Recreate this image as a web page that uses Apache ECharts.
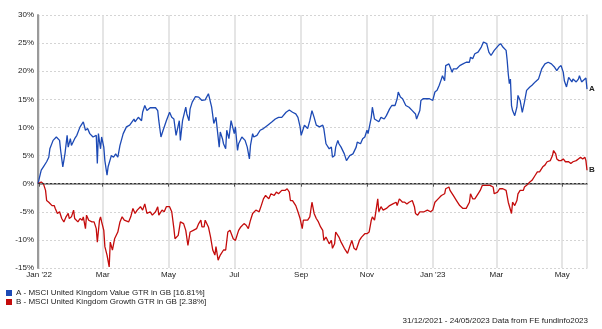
<!DOCTYPE html>
<html>
<head>
<meta charset="utf-8">
<script src="https://cdn.jsdelivr.net/npm/echarts@6/dist/echarts.min.js"></script>
<style>
  html, body { margin: 0; padding: 0; background: #fff; }
  #chart { width: 602px; height: 329px; }
</style>
</head>
<body>
<div id="chart"></div>
<script>
// Cumulative total return (%) from 31/12/2021, sampled as [day offset, value]
const startDate = '2021-12-31';
const endDate = '2023-05-24';

const nameA = 'A - MSCI United Kingdom Value GTR in GB [16.81%]';
const nameB = 'B - MSCI United Kingdom Growth GTR in GB [2.38%]';

const pointsA = [
  [0,0],[3,2.4],[5,3.0],[8,3.9],[10,4.7],[11,6.2],[14,7.7],[17,8.3],[20,7.7],[21,5.9],[23,3.0],[25,5.3],
  [27,8.6],[28,6.5],[30,8.0],[31,6.8],[34,8.0],[36,8.6],[39,10.1],[42,11.0],[44,9.5],[46,9.8],[48,8.9],
  [51,8.3],[54,8.6],[55,3.6],[56,8.9],[58,6.2],[59,8.3],[61,6.5],[62,4.1],[64,1.5],[65,3.0],[68,5.0],
  [70,4.7],[72,5.3],[74,4.7],[76,6.8],[79,8.9],[82,10.1],[85,10.4],[89,11.5],[90,11.0],[93,11.8],
  [96,11.2],[97,12.7],[99,13.9],[101,13.0],[104,13.5],[109,13.5],[111,13.0],[112,11.2],[114,8.3],
  [116,9.5],[119,11.2],[122,12.7],[124,11.8],[126,11.5],[128,8.6],[129,8.3],[131,11.2],[132,7.7],
  [134,11.2],[137,13.6],[138,12.4],[140,11.2],[141,13.3],[143,14.5],[146,15.5],[149,15.4],[152,14.8],
  [155,14.9],[158,16.0],[159,15.7],[161,13.6],[163,10.7],[165,11.8],[168,6.5],[169,9.2],[171,8.0],
  [172,7.1],[174,6.2],[175,9.5],[177,8.0],[179,11.2],[180,11.2],[182,8.9],[183,10.1],[185,5.9],
  [186,7.1],[189,8.3],[192,7.7],[194,6.5],[196,4.4],[197,6.8],[199,8.9],[200,8.3],[203,8.6],[206,9.5],
  [209,9.8],[213,10.4],[217,11.0],[220,11.5],[223,11.8],[226,11.8],[230,12.7],[233,13.1],[236,12.7],
  [239,12.4],[241,11.8],[243,10.1],[244,8.6],[247,10.4],[250,9.8],[252,11.2],[254,13.0],[256,11.8],
  [258,10.4],[261,10.1],[264,10.4],[265,9.8],[267,7.1],[270,6.2],[272,6.5],[273,4.7],[275,5.0],
  [276,6.5],[278,7.7],[279,7.1],[281,6.5],[282,6.5],[284,5.3],[286,4.1],[289,5.0],[292,5.3],[295,6.5],
  [296,7.4],[299,7.1],[301,8.0],[303,8.3],[305,9.5],[306,8.9],[309,11.8],[310,13.6],[312,11.5],
  [313,11.2],[316,11.0],[318,11.8],[321,11.5],[323,12.1],[324,11.8],[326,13.3],[328,13.9],[331,13.9],
  [333,15.1],[334,16.3],[336,15.4],[338,15.1],[341,13.9],[344,13.6],[347,13.0],[350,12.4],[351,11.5],
  [354,13.0],[355,14.8],[357,15.1],[360,15.1],[363,15.1],[366,14.8],[368,16.3],[370,16.6],[372,17.5],
  [374,18.6],[375,19.2],[377,18.3],[378,21.0],[381,21.3],[382,21.0],[384,19.8],[385,20.4],[388,20.4],
  [391,21.0],[394,21.3],[397,21.6],[400,21.6],[401,22.5],[403,22.2],[405,23.1],[408,23.4],[411,24.3],
  [413,25.2],[416,24.9],[418,23.4],[420,22.8],[423,23.7],[427,24.6],[429,24.9],[431,24.3],[434,23.7],
  [435,21.9],[436,19.5],[437,17.8],[438,18.6],[439,13.9],[440,13.0],[442,12.1],[444,13.6],[445,15.7],
  [447,14.8],[449,12.7],[451,14.5],[453,16.6],[454,16.3],[456,17.2],[458,17.5],[461,18.1],[464,18.6],
  [467,20.4],[470,21.3],[473,21.6],[476,21.3],[479,20.7],[481,20.1],[483,20.7],[485,21.0],[487,19.8],
  [488,18.3],[490,17.2],[492,18.9],[493,18.6],[495,18.1],[496,18.6],[499,18.1],[501,18.6],[502,19.2],
  [504,18.1],[505,18.3],[508,18.8],[509,16.81]
];

const pointsB = [
  [0,0],[3,0.3],[5,0],[7,-1.2],[8,-3.0],[10,-3.3],[11,-3.0],[13,-3.9],[15,-3.9],[16,-4.4],[18,-5.3],
  [20,-5.0],[22,-6.2],[24,-6.8],[26,-5.9],[28,-5.3],[29,-6.2],[31,-5.9],[33,-4.7],[34,-6.2],[37,-6.8],
  [39,-6.2],[41,-6.5],[42,-5.9],[44,-8.0],[45,-5.6],[47,-6.5],[50,-6.8],[52,-6.8],[54,-8.0],[55,-10.4],
  [57,-6.5],[58,-5.9],[59,-6.8],[61,-8.3],[62,-11.2],[64,-12.7],[66,-14.8],[67,-10.4],[69,-11.8],
  [71,-9.8],[72,-10.1],[74,-8.6],[76,-6.8],[78,-5.9],[80,-6.5],[81,-6.2],[84,-6.8],[86,-5.9],[88,-4.4],
  [90,-5.3],[92,-4.7],[95,-4.1],[97,-4.7],[99,-3.6],[101,-5.3],[104,-5.0],[106,-5.6],[109,-5.0],
  [111,-4.1],[112,-5.6],[115,-4.7],[117,-5.0],[119,-4.1],[122,-4.1],[124,-5.0],[126,-8.0],[127,-9.8],
  [130,-9.2],[132,-6.8],[135,-7.1],[137,-8.3],[139,-11.0],[141,-8.6],[144,-8.3],[147,-8.0],[149,-7.1],
  [151,-6.5],[152,-7.7],[154,-7.7],[155,-6.5],[158,-7.7],[160,-9.5],[162,-11.8],[164,-12.7],[165,-11.2],
  [167,-13.6],[169,-12.7],[172,-11.8],[174,-11.8],[176,-8.6],[178,-8.3],[181,-9.8],[183,-10.1],
  [186,-8.3],[188,-7.7],[191,-7.1],[193,-7.4],[195,-8.0],[197,-6.5],[199,-5.3],[202,-4.7],[205,-5.0],
  [207,-3.9],[209,-2.7],[211,-2.1],[214,-2.7],[216,-1.8],[219,-2.1],[221,-1.5],[223,-1.8],[226,-1.2],
  [229,-1.2],[231,-0.9],[233,-1.5],[234,-3.0],[236,-3.0],[239,-3.9],[241,-5.0],[243,-6.2],[245,-8.0],
  [246,-6.5],[250,-6.5],[252,-5.9],[254,-3.3],[255,-3.6],[256,-5.3],[258,-6.2],[260,-6.8],[262,-7.7],
  [264,-8.3],[265,-10.1],[267,-9.5],[268,-9.8],[270,-10.7],[272,-10.1],[273,-11.5],[275,-10.7],
  [276,-8.6],[279,-9.5],[281,-10.4],[284,-11.5],[287,-12.4],[289,-11.2],[291,-10.1],[293,-11.5],
  [295,-11.8],[298,-10.1],[300,-9.5],[303,-8.9],[305,-8.9],[307,-8.6],[309,-6.5],[310,-5.9],[312,-6.5],
  [313,-5.3],[315,-2.7],[316,-5.0],[318,-4.1],[320,-4.7],[321,-5.0],[323,-4.4],[326,-3.9],[329,-3.6],
  [332,-3.3],[333,-3.9],[335,-2.7],[338,-3.3],[340,-3.3],[342,-3.6],[344,-3.3],[347,-3.0],[349,-4.1],
  [350,-5.3],[352,-5.6],[354,-5.0],[355,-4.7],[358,-5.0],[361,-4.7],[364,-5.0],[366,-4.7],[368,-3.3],
  [371,-2.7],[374,-2.1],[377,-1.8],[378,-0.9],[381,-0.6],[382,-1.2],[385,-2.1],[388,-3.0],[391,-3.9],
  [394,-4.4],[397,-4.4],[398,-4.7],[400,-3.3],[401,-1.8],[403,-2.7],[405,-2.7],[408,-1.8],[410,-1.2],
  [412,-0.3],[415,-0.3],[419,-0.3],[422,-0.6],[423,-1.8],[426,-1.5],[428,-0.9],[431,-0.9],[434,-1.2],
  [436,-3.3],[437,-3.6],[439,-5.3],[440,-3.3],[442,-3.9],[444,-3.0],[445,-1.8],[447,-1.2],[450,-1.2],
  [451,-0.6],[453,-0.3],[454,0],[456,0.3],[458,0.6],[461,1.5],[463,2.1],[465,2.1],[468,3.0],[470,3.3],
  [472,3.9],[475,4.1],[477,5.0],[478,5.9],[480,5.3],[481,4.4],[483,4.1],[485,4.1],[487,4.4],[489,3.9],
  [492,3.9],[494,3.6],[496,3.9],[499,4.1],[501,4.4],[503,4.7],[505,4.4],[507,4.7],[508,4.1],[509,2.38]
];

const yTicks = { min: -15, max: 30, step: 5 };
const monthNames = ['Jan','Feb','Mar','Apr','May','Jun','Jul','Aug','Sep','Oct','Nov','Dec'];
const footerText = '31/12/2021 - 24/05/2023 Data from FE fundinfo2023';

// One category per calendar day across the period
const days = [];
(function () {
  const d = new Date(startDate + 'T00:00:00Z');
  const end = new Date(endDate + 'T00:00:00Z');
  while (d <= end) {
    days.push(d.toISOString().slice(0, 10));
    d.setUTCDate(d.getUTCDate() + 1);
  }
})();

// Ticks and grid lines on the first day of every other month
function isTickDay(idx, value) {
  const m = +value.slice(5, 7) - 1;
  return value.slice(8, 10) === '01' && m % 2 === 0;
}
function monthLabel(value) {
  const m = +value.slice(5, 7) - 1;
  return m === 0 ? monthNames[m] + " '" + value.slice(2, 4) : monthNames[m];
}

const FONT = 'Liberation Sans, Arial, sans-serif';
const chart = echarts.init(document.getElementById('chart'), null, { renderer: 'canvas' });

chart.setOption({
  animation: false,
  color: ['#1d4ab5', '#c40c0c'],
  textStyle: { fontFamily: FONT },
  grid: { left: 38, right: 15, top: 15, bottom: 61, containLabel: false },
  title: {
    text: footerText,
    right: 14, bottom: 4, padding: 0,
    textStyle: { fontSize: 8, fontWeight: 'normal', color: '#222', fontFamily: FONT }
  },
  legend: {
    orient: 'vertical',
    left: 1, top: 284,
    itemWidth: 6, itemHeight: 6, itemGap: 1,
    icon: 'rect',
    textStyle: { fontSize: 8, color: '#222', fontFamily: FONT, padding: [0, 0, 0, -1] },
    data: [nameA, nameB]
  },
  xAxis: {
    type: 'category',
    data: days,
    boundaryGap: false,
    axisLine: { show: true, lineStyle: { color: '#9a9a9a', width: 2 } },
    axisTick: { show: true, interval: isTickDay, length: 3, lineStyle: { color: '#555', width: 1 } },
    axisLabel: { interval: isTickDay, formatter: monthLabel, fontSize: 8, color: '#222', margin: 3, fontFamily: FONT },
    splitLine: { show: true, interval: isTickDay, lineStyle: { color: '#dcdcdc', width: 1.5 } }
  },
  yAxis: [{
    type: 'value',
    min: yTicks.min, max: yTicks.max, interval: yTicks.step,
    axisLine: { show: true, lineStyle: { color: '#9a9a9a', width: 2 } },
    axisTick: { show: false },
    axisLabel: { formatter: '{value}%', fontSize: 8, color: '#222', margin: 4, fontFamily: FONT },
    splitLine: { show: true, lineStyle: { color: '#d4d4d4', width: 1, type: [2, 2] } }
  }, {
    type: 'value',
    position: 'right',
    min: yTicks.min, max: yTicks.max, interval: yTicks.step,
    axisLine: { show: true, lineStyle: { color: '#dcdcdc', width: 1.5 } },
    axisTick: { show: false },
    axisLabel: { show: false },
    splitLine: { show: false }
  }],
  series: [{
    name: nameA,
    type: 'line',
    data: pointsA,
    showSymbol: false,
    symbol: 'none',
    lineStyle: { width: 1.3, color: '#1d4ab5' },
    itemStyle: { color: '#1d4ab5' },
    endLabel: { show: true, formatter: 'A', fontSize: 8, fontWeight: 'bold', color: '#222', distance: 2 },
    markLine: {
      silent: true, symbol: 'none', label: { show: false },
      lineStyle: { color: '#333', width: 1, type: [2, 2] },
      data: [{ yAxis: 0 }]
    },
    z: 3
  }, {
    name: nameB,
    type: 'line',
    data: pointsB,
    showSymbol: false,
    symbol: 'none',
    lineStyle: { width: 1.3, color: '#c40c0c' },
    itemStyle: { color: '#c40c0c' },
    endLabel: { show: true, formatter: 'B', fontSize: 8, fontWeight: 'bold', color: '#222', distance: 2 },
    z: 3
  }]
});
</script>
</body>
</html>
